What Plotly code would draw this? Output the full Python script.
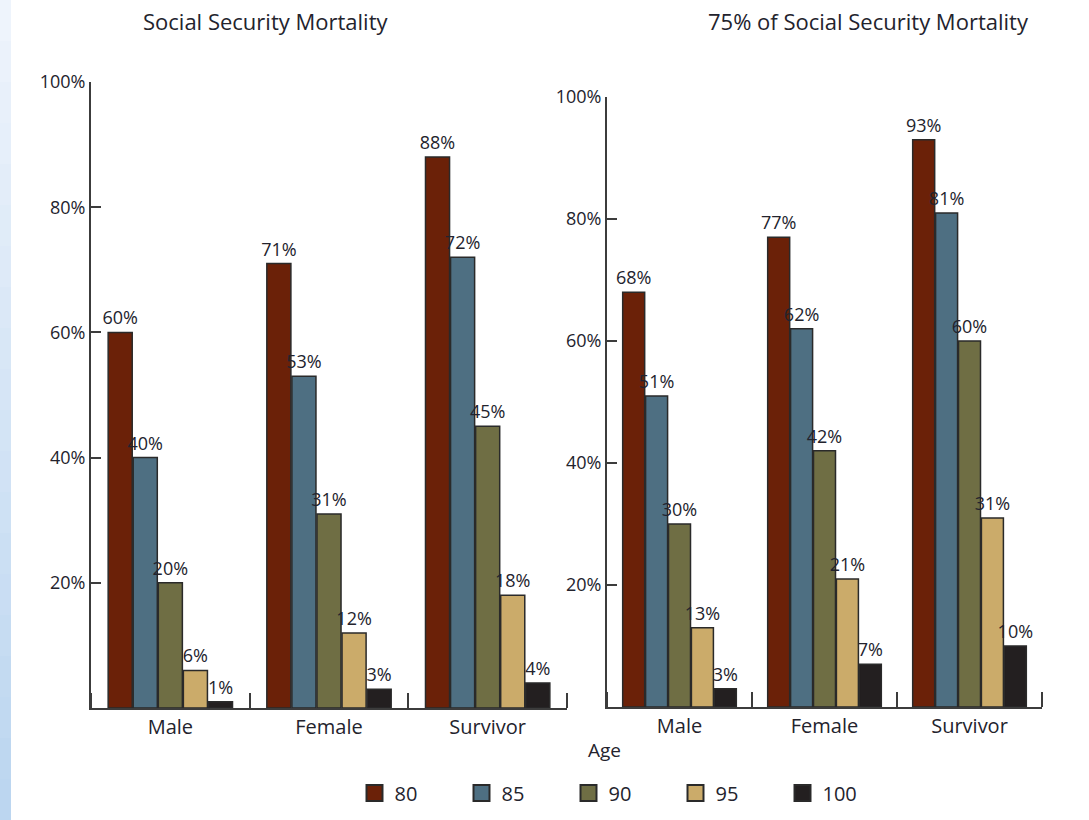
import plotly.graph_objects as go

W, H = 1089, 820

categories = ["Male", "Female", "Survivor"]
ages = ["80", "85", "90", "95", "100"]
colors = ["#6B2108", "#4E6F82", "#6F6E44", "#CBAB6A", "#231F20"]

ss_values = {
    "80": [60, 71, 88],
    "85": [40, 53, 72],
    "90": [20, 31, 45],
    "95": [6, 12, 18],
    "100": [1, 3, 4],
}
ss75_values = {
    "80": [68, 77, 93],
    "85": [51, 62, 81],
    "90": [30, 42, 60],
    "95": [13, 21, 31],
    "100": [3, 7, 10],
}

ytick_vals = [20, 40, 60, 80, 100]
ytick_text = ["20%", "40%", "60%", "80%", "100%"]

FONT = "Open Sans"
TXT = "#23232d"
WT = 500

xpos = list(range(len(categories)))
bounds = [i - 0.5 for i in range(len(categories) + 1)]

fig = go.Figure()
for panel, (vals, xa, ya) in enumerate([(ss_values, "x", "y"), (ss75_values, "x2", "y2")]):
    for i, a in enumerate(ages):
        fig.add_trace(go.Bar(
            x=xpos, y=vals[a], name=a, marker_color=colors[i],
            marker_line=dict(color="#2a2a2a", width=1.5),
            text=[f"{v}%" for v in vals[a]], textposition="outside",
            constraintext="none",
            textfont=dict(size=18, color=TXT, family=FONT, weight=WT), cliponaxis=False,
            xaxis=xa, yaxis=ya, showlegend=False))

# legend keys (no data points, only legend entries)
for i, a in enumerate(ages):
    fig.add_trace(go.Scatter(
        x=[None], y=[None], mode="markers", name=a,
        marker=dict(symbol="square", size=16, color=colors[i],
                    line=dict(color="#2a2a2a", width=2)),
        xaxis="x", yaxis="y", showlegend=True))

def px_x(p):
    return p / W

def px_y(p):
    return 1 - p / H

xcommon = dict(type="linear", showline=True, linecolor="#3c3c3c", linewidth=2,
               automargin=False,
               tickvals=xpos, ticktext=categories, ticks="",
               minor=dict(tickvals=bounds, ticks="inside", ticklen=15, tickwidth=2,
                          tickcolor="#3c3c3c", showgrid=False),
               showgrid=False, zeroline=False,
               tickfont=dict(size=20, color=TXT, family=FONT, weight=WT),
               range=[bounds[0], bounds[-1]])
ycommon = dict(range=[0, 100], showline=True, linecolor="#3c3c3c", linewidth=2,
               automargin=False,
               ticks="inside", ticklen=10, tickwidth=2, tickcolor="#3c3c3c",
               tickvals=ytick_vals, ticktext=ytick_text, showgrid=False,
               zeroline=False, tickfont=dict(size=18, color=TXT, family=FONT, weight=WT))

shapes = []
n = 20
for k in range(n):
    t = k / (n - 1)
    r = int(238 + (188 - 238) * t)
    g = int(244 + (214 - 244) * t)
    b = int(252 + (240 - 252) * t)
    shapes.append(dict(type="rect", xref="paper", yref="paper",
                       x0=0, x1=11 / W, y0=1 - (k + 1) / n, y1=1 - k / n,
                       fillcolor=f"rgb({r},{g},{b})", line=dict(width=0), layer="below"))

fig.update_layout(
    template="none",
    width=W, height=H, margin=dict(l=0, r=0, t=0, b=0, autoexpand=False),
    paper_bgcolor="white", plot_bgcolor="white",
    font=dict(family=FONT, color=TXT),
    barmode="group",
    bargap=0.21, bargroupgap=0.04,
    xaxis=dict(domain=[px_x(91), px_x(567)], anchor="y", **xcommon),
    yaxis=dict(domain=[px_y(708), px_y(82)], anchor="x", **ycommon),
    xaxis2=dict(domain=[px_x(607), px_x(1042)], anchor="y2", **xcommon),
    yaxis2=dict(domain=[px_y(707), px_y(97)], anchor="x2", **ycommon),
    shapes=shapes,
    legend=dict(orientation="h", x=px_x(622), xanchor="center", y=px_y(793),
                yanchor="middle", entrywidth=62,
                font=dict(size=20, color=TXT, family=FONT, weight=WT),
                itemclick=False, itemdoubleclick=False),
    annotations=[
        dict(text="Social Security Mortality", x=px_x(265), y=px_y(21), xref="paper",
             yref="paper", xanchor="center", yanchor="middle", showarrow=False,
             font=dict(size=22, color=TXT, family=FONT, weight=WT)),
        dict(text="75% of Social Security Mortality", x=px_x(868), y=px_y(21), xref="paper",
             yref="paper", xanchor="center", yanchor="middle", showarrow=False,
             font=dict(size=22, color=TXT, family=FONT, weight=WT)),
        dict(text="Age", x=px_x(604), y=px_y(750), xref="paper", yref="paper",
             xanchor="center", yanchor="middle", showarrow=False,
             font=dict(size=19, color=TXT, family=FONT, weight=WT)),
    ],
)

fig.write_html("out.html")
